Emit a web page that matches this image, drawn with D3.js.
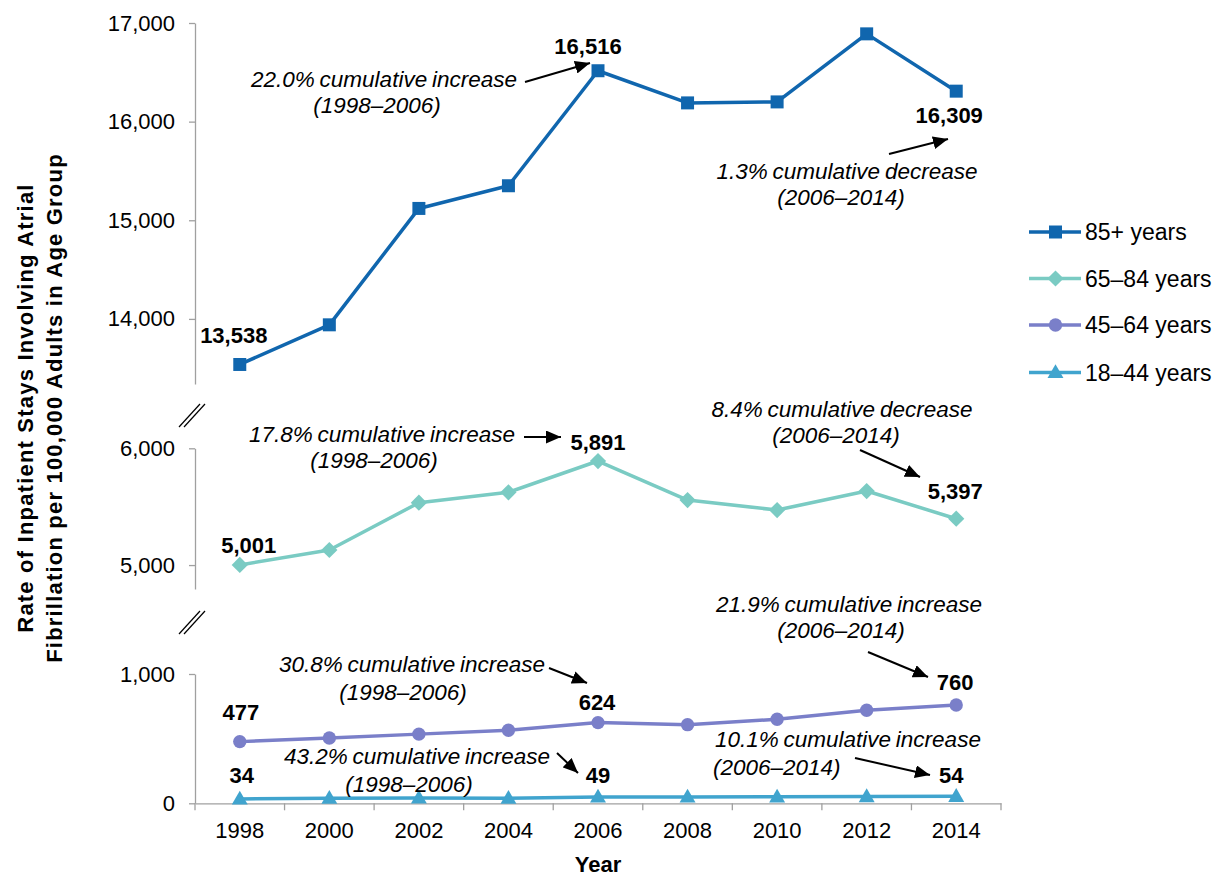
<!DOCTYPE html>
<html><head><meta charset="utf-8">
<script src="https://cdn.jsdelivr.net/npm/d3@7"></script>
<style>
body{margin:0;background:#fff;}
svg{display:block;font-family:"Liberation Sans",Arial,sans-serif;}
</style></head>
<body><svg id="c" width="1214" height="879"></svg>
<script>
const years = ["1998","2000","2002","2004","2006","2008","2010","2012","2014"];
const s85 = [13538, 13940, 15120, 15350, 16516, 16190, 16200, 16890, 16309];
const s65 = [5001, 5129, 5534, 5623, 5891, 5557, 5471, 5634, 5397];
const s45 = [477, 505, 535, 565, 624, 608, 650, 720, 760];
const s18 = [34, 40, 41, 39, 49, 49, 50, 52, 54];
const seriesNames = ["85+ years","65–84 years","45–64 years","18–44 years"];
const ticksTop = [14000, 15000, 16000, 17000];
const ticksMid = [5000, 6000];
const ticksBot = [0, 1000];
const labelIdx = [0, 4, 8];

const svg = d3.select("#c");
const FONT = "Liberation Sans, Arial, sans-serif";
const axisCol = "#a0a0a0";
const colors = ["#1066AE", "#7ACBC3", "#7A7FC9", "#40A4CE"];

const x = d3.scaleBand().domain(years).range([195, 1001]);
const cx = y => x(y) + x.bandwidth()/2;
const yTop = d3.scaleLinear().domain([13340, 17000]).range([384, 23]);
const yMid = d3.scaleLinear().domain([4795, 6000]).range([589, 448.3]);
const yBot = d3.scaleLinear().domain([0, 1000]).range([803.3, 674]);

svg.append("defs").append("marker")
  .attr("id","ah").attr("markerUnits","userSpaceOnUse")
  .attr("markerWidth",15).attr("markerHeight",13)
  .attr("refX",15).attr("refY",6.5).attr("orient","auto")
  .append("path").attr("d","M0,0 L15,6.5 L0,13 Z").attr("fill","#000");

function yAxis(scale, ticks){
  const g = svg.append("g").attr("transform","translate(195,0)")
    .call(d3.axisLeft(scale).tickValues(ticks).tickFormat(d3.format(",")).tickSize(6).tickPadding(14).tickSizeOuter(0));
  g.select(".domain").attr("stroke",axisCol).attr("stroke-width",1.3);
  g.selectAll(".tick line").attr("stroke",axisCol).attr("stroke-width",1.3);
  g.selectAll("text").attr("font-size","22px").attr("font-family",FONT).attr("fill","#000");
}
yAxis(yTop, ticksTop);
yAxis(yMid, ticksMid);
yAxis(yBot, ticksBot);

const xg = svg.append("g").attr("transform","translate(0,803.3)")
  .call(d3.axisBottom(x).tickSize(0).tickPadding(19));
xg.select(".domain").attr("stroke",axisCol).attr("stroke-width",1.3);
xg.selectAll("text").attr("font-size","22px").attr("font-family",FONT).attr("fill","#000");
const bounds = years.map(y => x(y)).concat([x.range()[1]]);
xg.selectAll("line.bt").data(bounds).enter().append("line")
  .attr("x1",d=>d).attr("x2",d=>d).attr("y1",0).attr("y2",7)
  .attr("stroke",axisCol).attr("stroke-width",1.3);

[0,207].forEach(off=>{
  [0,5].forEach(dx=>{
    svg.append("line").attr("x1",179+dx).attr("y1",427+off).attr("x2",200+dx).attr("y2",404+off)
      .attr("stroke","#000").attr("stroke-width",1.2);
  });
});

const symSquare = d3.symbol().type(d3.symbolSquare).size(169);
const symDiamond = d3.symbol().type(d3.symbolSquare).size(132);
const symCircle = d3.symbol().type(d3.symbolCircle).size(140);
const symTri = d3.symbol().type(d3.symbolTriangle).size(110);
const series = [
  {vals:s85, y:yTop, col:colors[0], sym:symSquare, rot:0},
  {vals:s65, y:yMid, col:colors[1], sym:symDiamond, rot:45},
  {vals:s45, y:yBot, col:colors[2], sym:symCircle, rot:0},
  {vals:s18, y:yBot, col:colors[3], sym:symTri, rot:0}
];
series.forEach(s=>{
  const line = d3.line().x((d,i)=>cx(years[i])).y(d=>s.y(d));
  svg.append("path").attr("d",line(s.vals)).attr("fill","none")
    .attr("stroke",s.col).attr("stroke-width",3.5).attr("stroke-linejoin","round");
  svg.selectAll(null).data(s.vals).enter().append("path")
    .attr("d",s.sym())
    .attr("transform",(d,i)=>`translate(${cx(years[i])},${s.y(d) + (s.sym===symTri?1:0)}) rotate(${s.rot})`)
    .attr("fill",s.col);
});

const labelOffsets = [
  [[-6,-21],[-10,-17],[-7,32]],
  [[9,-12],[0,-11],[-1,-20]],
  [[1,-22],[-1,-13],[-1,-15]],
  [[2,-16],[0,-14],[-5,-13]]
];
series.forEach((s,si)=>{
  labelIdx.forEach((idx,k)=>{
    const o = labelOffsets[si][k];
    svg.append("text")
      .attr("x", cx(years[idx]) + o[0]).attr("y", s.y(s.vals[idx]) + o[1])
      .attr("text-anchor","middle").attr("font-size","22px").attr("font-weight","bold")
      .attr("font-family",FONT).text(d3.format(",")(s.vals[idx]));
  });
});

const ann = [
  {l:[[384,87,"22.0% cumulative increase"],[377,113,"(1998–2006)"]], anchor:"middle", a:[525,82,590,63]},
  {l:[[847,179,"1.3% cumulative decrease"],[841,205,"(2006–2014)"]], anchor:"middle", a:[889,154,948,139]},
  {l:[[382,442,"17.8% cumulative increase"],[374,468,"(1998–2006)"]], anchor:"middle", a:[524,437,561,437]},
  {l:[[842,417,"8.4% cumulative decrease"],[836,443,"(2006–2014)"]], anchor:"middle", a:[860,450,920,477]},
  {l:[[412,672,"30.8% cumulative increase"],[403,700,"(1998–2006)"]], anchor:"middle", a:[549,668,587,683]},
  {l:[[417,764,"43.2% cumulative increase"],[409,792,"(1998–2006)"]], anchor:"middle", a:[557,753,578,773]},
  {l:[[849,612,"21.9% cumulative increase"],[841,638,"(2006–2014)"]], anchor:"middle", a:[868,652,928,677]},
  {l:[[715,747,"10.1% cumulative increase"],[713,775,"(2006–2014)"]], anchor:"start", a:[855,758,930,775]}
];
ann.forEach(A=>{
  A.l.forEach(t=>{
    svg.append("text").attr("x",t[0]).attr("y",t[1]).attr("text-anchor",A.anchor)
      .attr("font-size","22.5px").attr("font-style","italic").attr("font-family",FONT)
      .attr("word-spacing","-1.5px").text(t[2]);
  });
  svg.append("line").attr("x1",A.a[0]).attr("y1",A.a[1]).attr("x2",A.a[2]).attr("y2",A.a[3])
    .attr("stroke","#000").attr("stroke-width",2).attr("marker-end","url(#ah)");
});

svg.append("text").attr("transform","translate(33,408) rotate(-90)")
  .attr("text-anchor","middle").attr("font-size","22px").attr("font-weight","bold")
  .attr("font-family",FONT).attr("letter-spacing","1.2px").text("Rate of Inpatient Stays Involving  Atrial");
svg.append("text").attr("transform","translate(62,408) rotate(-90)")
  .attr("text-anchor","middle").attr("font-size","22px").attr("font-weight","bold")
  .attr("font-family",FONT).attr("letter-spacing","1.2px").text("Fibrillation  per 100,000 Adults in Age Group");
svg.append("text").attr("x",598).attr("y",872).attr("text-anchor","middle")
  .attr("font-size","22px").attr("font-weight","bold").attr("font-family",FONT).text("Year");

const legY = [232, 278.5, 325, 372.5];
series.forEach((s,i)=>{
  const g = svg.append("g").attr("transform",`translate(0,${legY[i]})`);
  g.append("line").attr("x1",1029).attr("x2",1081).attr("y1",0).attr("y2",0)
    .attr("stroke",s.col).attr("stroke-width",3.5);
  g.append("path").attr("d",s.sym()).attr("transform",`translate(1055.5,${s.sym===symTri?1:0}) rotate(${s.rot})`).attr("fill",s.col);
  g.append("text").attr("x",1085).attr("y",0).attr("dy","0.35em")
    .attr("font-size","23px").attr("font-family",FONT).text(seriesNames[i]);
});
</script></body></html>
